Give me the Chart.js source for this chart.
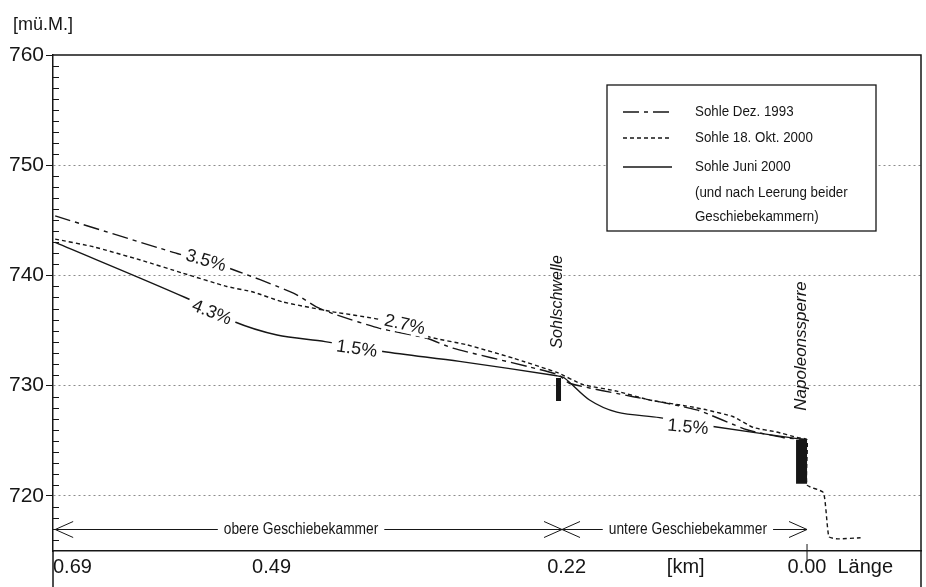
<!DOCTYPE html>
<html>
<head>
<meta charset="utf-8">
<script src="https://cdn.jsdelivr.net/npm/chart.js@4.4.0/dist/chart.umd.min.js"></script>
<style>
    html, body { margin: 0; padding: 0; background: #fff; }
    #wrap { width: 926px; height: 587px; position: relative; }
</style>
</head>
<body>
<div id="wrap"><canvas id="chart"></canvas></div>
<script>
// Abstand oberhalb der Napoleonssperre [km], Sohlenhöhe [m ü.M.]
const dez1993Km = [0.688, 0.580, 0.530, 0.470, 0.448, 0.430, 0.391, 0.348, 0.324, 0.254, 0.228, 0.217, 0.159, 0.101, 0.055, 0.022, 0.000]
const dez1993Hoehe = [745.4, 742.1, 740.7, 738.4, 737.1, 736.4, 735.2, 734.3, 733.4, 731.7, 731.0, 730.2, 729.0, 727.8, 726.0, 725.3, 725.1]

const okt2000Km = [0.688, 0.653, 0.610, 0.571, 0.531, 0.507, 0.480, 0.434, 0.391, 0.345, 0.311, 0.269, 0.229, 0.205, 0.174, 0.144, 0.107, 0.092, 0.068, 0.049, 0.028, 0.009, 0.000, 0.000, -0.015, -0.020, -0.028, -0.049]
const okt2000Hoehe = [743.3, 742.6, 741.4, 740.2, 739.0, 738.5, 737.6, 736.7, 736.0, 734.4, 733.7, 732.5, 731.2, 730.1, 729.5, 728.7, 728.1, 727.8, 727.2, 726.2, 725.8, 725.3, 725.1, 721.0, 720.3, 716.3, 716.1, 716.2]

const juni2000Km = [0.688, 0.569, 0.524, 0.485, 0.441, 0.388, 0.318, 0.229, 0.222, 0.199, 0.174, 0.135, 0.086, 0.009, 0.000]
const juni2000Hoehe = [743.0, 738.0, 735.8, 734.6, 734.0, 733.1, 732.2, 730.9, 730.7, 728.7, 727.6, 727.1, 726.3, 725.2, 725.1]

// Bauwerke
const sohlschwelleKm = [0.2274, 0.2274]
const sohlschwelleHoehe = [730.7, 728.6]
const sperreKm = [0.005, 0.005]
const sperreHoehe = [725.1, 721.1]

const seriesNames = ['Sohle Dez. 1993', 'Sohle 18. Okt. 2000', 'Sohle Juni 2000']
const legendNote = ['(und nach Leerung beider', 'Geschiebekammern)']

const xTickValues = [-0.0787, 0, 0.111, 0.22, 0.49, 0.69]
const xTickLabels = ['Länge', '0.00', '[km]', '0.22', '0.49', '0.69']
const yTickValues = [720, 730, 740, 750, 760]

// Gefälle-Beschriftungen an den Linien
const gefaelle = [
    { text: '3.5%', km: 0.550, hoehe: 741.4, angle: 16 },
    { text: '4.3%', km: 0.5445, hoehe: 736.7, angle: 22 },
    { text: '2.7%', km: 0.368, hoehe: 735.6, angle: 13 },
    { text: '1.5%', km: 0.412, hoehe: 733.4, angle: 8 },
    { text: '1.5%', km: 0.109, hoehe: 726.3, angle: 5 }
]
const bauwerke = [
    { text: 'Sohlschwelle', km: 0.2279, hoehe: 737.6, size: 16 },
    { text: 'Napoleonssperre', km: 0.0055, hoehe: 733.6, size: 17 }
]
const kammern = [
    { text: 'obere Geschiebekammer', from: 0.688, to: 0.2242, textKm: 0.463 },
    { text: 'untere Geschiebekammer', from: 0.2242, to: 0, textKm: 0.109 }
]
const kammerHoehe = 717.0

const ink = '#161616'
const sans = '"Liberation Sans", Arial, Helvetica, sans-serif'
const squeeze = 0.86

const points = (km, hoehe) => km.map((x, i) => ({ x: x, y: hoehe[i] }))

function arrowHead(ctx, tipX, y, dir) {
    ctx.beginPath()
    ctx.moveTo(tipX - dir * 18, y - 8)
    ctx.lineTo(tipX, y)
    ctx.lineTo(tipX - dir * 18, y + 8)
    ctx.stroke()
}

// schmale Schrift wie im Original (horizontal gestaucht)
function narrowText(ctx, text, x, y, align) {
    ctx.save()
    ctx.translate(x, y)
    ctx.scale(squeeze, 1)
    ctx.textAlign = align
    ctx.fillText(text, 0, 0)
    ctx.restore()
}

const decor = {
    id: 'decor',
    beforeDatasetsDraw(chart) {
        const { ctx, chartArea: a, scales: { y } } = chart
        ctx.save()
        ctx.strokeStyle = ink
        ctx.lineWidth = 1
        for (let v = 716; v < 760; v++) {
            if (v % 10 === 0) continue
            const py = Math.round(y.getPixelForValue(v)) + 0.5
            ctx.beginPath()
            ctx.moveTo(a.left, py)
            ctx.lineTo(a.left + 6, py)
            ctx.stroke()
        }
        ctx.restore()
    },
    afterDatasetsDraw(chart) {
        const { ctx, chartArea: a, scales: { x, y } } = chart
        ctx.save()

        // frame
        ctx.strokeStyle = ink
        ctx.lineWidth = 1.5
        ctx.beginPath()
        ctx.moveTo(a.left, a.top)
        ctx.lineTo(a.right, a.top)
        ctx.lineTo(a.right, chart.height)
        ctx.moveTo(a.left, a.bottom)
        ctx.lineTo(a.left, chart.height)
        ctx.stroke()
        const x0 = x.getPixelForValue(0)
        ctx.lineWidth = 1
        ctx.beginPath()
        ctx.moveTo(x0, a.bottom - 7)
        ctx.lineTo(x0, a.bottom + 9)
        ctx.stroke()

        // unit
        ctx.fillStyle = ink
        ctx.font = '18px ' + sans
        ctx.textAlign = 'left'
        ctx.textBaseline = 'middle'
        ctx.fillText('[mü.M.]', 13, 25)

        // slope labels with gaps in the lines
        ctx.font = '18px ' + sans
        ctx.textAlign = 'center'
        gefaelle.forEach((g) => {
            const px = x.getPixelForValue(g.km)
            const py = y.getPixelForValue(g.hoehe)
            const w = ctx.measureText(g.text).width
            ctx.save()
            ctx.translate(px, py)
            ctx.rotate((g.angle * Math.PI) / 180)
            ctx.fillStyle = '#fff'
            ctx.fillRect(-w / 2 - 5, -9, w + 10, 18)
            ctx.fillStyle = ink
            ctx.fillText(g.text, 0, 1)
            ctx.restore()
        })

        // structure names
        bauwerke.forEach((b) => {
            ctx.save()
            ctx.translate(x.getPixelForValue(b.km), y.getPixelForValue(b.hoehe))
            ctx.rotate(-Math.PI / 2)
            ctx.font = 'italic ' + b.size + 'px ' + sans
            ctx.fillStyle = ink
            ctx.fillText(b.text, 0, 0)
            ctx.restore()
        })

        // chamber arrows
        ctx.font = '16px ' + sans
        ctx.lineWidth = 1
        const ay = Math.round(y.getPixelForValue(kammerHoehe)) + 0.5
        kammern.forEach((k) => {
            const x1 = x.getPixelForValue(k.from)
            const x2 = x.getPixelForValue(k.to)
            const tx = x.getPixelForValue(k.textKm)
            const w = ctx.measureText(k.text).width * squeeze
            ctx.beginPath()
            ctx.moveTo(x1, ay)
            ctx.lineTo(tx - w / 2 - 6, ay)
            ctx.moveTo(tx + w / 2 + 6, ay)
            ctx.lineTo(x2, ay)
            ctx.stroke()
            arrowHead(ctx, x1, ay, -1)
            arrowHead(ctx, x2, ay, 1)
            narrowText(ctx, k.text, tx, ay, 'center')
        })

        // legend
        const box = { left: 607, top: 85, right: 876, bottom: 231 }
        ctx.fillStyle = '#fff'
        ctx.fillRect(box.left, box.top, box.right - box.left, box.bottom - box.top)
        ctx.strokeStyle = ink
        ctx.lineWidth = 1.3
        ctx.strokeRect(box.left, box.top, box.right - box.left, box.bottom - box.top)
        const rows = [112, 138, 167]
        ctx.font = '15.5px ' + sans
        ctx.fillStyle = ink
        seriesNames.forEach((name, i) => {
            const ds = chart.data.datasets[i]
            ctx.save()
            ctx.lineWidth = ds.borderWidth
            ctx.setLineDash(ds.borderDash || [])
            ctx.beginPath()
            ctx.moveTo(623, rows[i])
            ctx.lineTo(672, rows[i])
            ctx.stroke()
            ctx.restore()
            narrowText(ctx, name, 695, rows[i], 'left')
        })
        legendNote.forEach((line, i) => narrowText(ctx, line, 695, 193 + i * 24, 'left'))

        ctx.restore()
    }
}

new Chart(document.getElementById('chart').getContext('2d'), {
    type: 'line',
    data: {
        datasets: [
            {
                label: seriesNames[0],
                data: points(dez1993Km, dez1993Hoehe),
                borderColor: ink,
                borderWidth: 1.4,
                borderDash: [16, 5, 4, 5],
                tension: 0.2,
                pointRadius: 0
            },
            {
                label: seriesNames[1],
                data: points(okt2000Km, okt2000Hoehe),
                borderColor: ink,
                borderWidth: 1.4,
                borderDash: [4, 3],
                tension: 0.15,
                pointRadius: 0
            },
            {
                label: seriesNames[2],
                data: points(juni2000Km, juni2000Hoehe),
                borderColor: ink,
                borderWidth: 1.4,
                tension: 0.3,
                pointRadius: 0
            },
            {
                label: 'Sohlschwelle',
                data: points(sohlschwelleKm, sohlschwelleHoehe),
                borderColor: ink,
                borderWidth: 5,
                pointRadius: 0
            },
            {
                label: 'Napoleonssperre',
                data: points(sperreKm, sperreHoehe),
                borderColor: ink,
                borderWidth: 11,
                pointRadius: 0
            }
        ]
    },
    options: {
        responsive: true,
        maintainAspectRatio: false,
        animation: false,
        layout: { padding: { top: 55, right: 5, left: 0, bottom: 0 } },
        plugins: { legend: { display: false }, tooltip: { enabled: false } },
        scales: {
            x: {
                type: 'linear',
                reverse: true,
                min: -0.1043,
                max: 0.69,
                afterBuildTicks: (scale) => {
                    scale.ticks = xTickValues.map((v) => ({ value: v }))
                },
                afterFit: (scale) => {
                    scale.height = 36
                },
                ticks: {
                    autoSkip: false,
                    maxRotation: 0,
                    align: 'inner',
                    padding: 4,
                    color: ink,
                    font: { family: sans, size: 20 },
                    callback: (value, index) => xTickLabels[index]
                },
                grid: { display: false, drawTicks: false },
                border: { display: true, color: ink, width: 1.5 }
            },
            y: {
                min: 715,
                max: 760,
                afterBuildTicks: (scale) => {
                    scale.ticks = yTickValues.map((v) => ({ value: v }))
                },
                afterFit: (scale) => {
                    scale.width = 53
                },
                ticks: {
                    autoSkip: false,
                    padding: 2,
                    color: ink,
                    font: { family: sans, size: 21 },
                    callback: (value) => String(value)
                },
                grid: {
                    color: (c) => (c.tick && c.tick.value === 760 ? 'rgba(0,0,0,0)' : '#8c8c8c'),
                    lineWidth: 1,
                    tickColor: ink,
                    tickLength: 7
                },
                border: { display: true, color: ink, width: 1.5, dash: [2, 3] }
            }
        }
    },
    plugins: [decor]
})
</script>
</body>
</html>
